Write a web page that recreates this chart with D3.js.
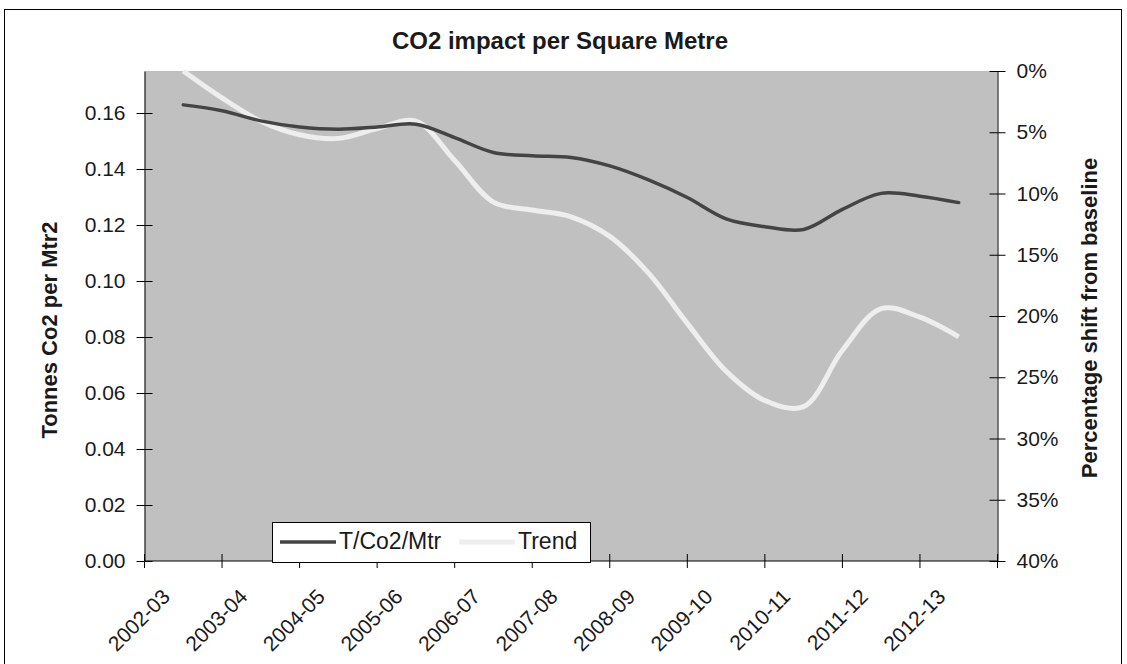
<!DOCTYPE html>
<html>
<head>
<meta charset="utf-8">
<script src="https://cdn.jsdelivr.net/npm/d3@7"></script>
<style>
  body { margin: 0; background: #fff; }
  text { font-family: "Liberation Sans", Arial, sans-serif; fill: #1a1a1a; }
</style>
</head>
<body>
<div id="chart"></div>
<script>
// Categories (financial years)
const periods = ["2002-03", "2003-04", "2004-05", "2005-06", "2006-07", "2007-08",
                 "2008-09", "2009-10", "2010-11", "2011-12", "2012-13"];

// Sample positions along the category axis (half-year steps)
const samplePos = [0, 0.5, 1, 1.5, 2, 2.5, 3, 3.5, 4, 4.5, 5, 5.5, 6, 6.5, 7, 7.5, 8, 8.5, 9, 9.5, 10];

// Tonnes CO2 per square metre (left axis)
const tonnes = [0.1629, 0.1608, 0.1572, 0.1550, 0.1542, 0.1550, 0.1560, 0.1512, 0.1459, 0.1447, 0.1441,
                0.1411, 0.1361, 0.1298, 0.1222, 0.1194, 0.1184, 0.1256, 0.1313, 0.1303, 0.1280];

// Percentage shift from baseline (right axis, reversed)
const trend = [0.0, 2.2, 4.1, 5.2, 5.5, 4.7, 4.1, 7.3, 10.7, 11.35, 11.9,
               13.5, 16.5, 20.6, 24.5, 26.9, 27.4, 22.8, 19.4, 20.1, 21.7];

const leftTicks = [0, 0.02, 0.04, 0.06, 0.08, 0.10, 0.12, 0.14, 0.16];
const rightTicks = [0, 5, 10, 15, 20, 25, 30, 35, 40];

const W = 1127, H = 664;
const plot = { left: 144.5, right: 997.5, top: 71, bottom: 561 };
const tickFont = "21px";

const svg = d3.select("#chart").append("svg")
  .attr("width", W).attr("height", H);

// outer chart border
svg.append("rect")
  .attr("x", 4.5).attr("y", 9.5)
  .attr("width", 1117).attr("height", 700)
  .attr("fill", "#fff").attr("stroke", "#000").attr("stroke-width", 1);

// plot background
svg.append("rect")
  .attr("x", plot.left).attr("y", plot.top)
  .attr("width", plot.right - plot.left).attr("height", plot.bottom - plot.top)
  .attr("fill", "#c0c0c0");

// scales
const x = d3.scaleLinear().domain([-0.5, periods.length - 0.5]).range([plot.left, plot.right]);
const yL = d3.scaleLinear().domain([0, 0.175]).range([plot.bottom, plot.top]);
const yR = d3.scaleLinear().domain([0, 40]).range([plot.top, plot.bottom]);

// left axis
svg.append("g")
  .attr("transform", `translate(${plot.left},0)`)
  .call(d3.axisLeft(yL).tickValues(leftTicks).tickFormat(d3.format(".2f"))
    .tickSizeInner(8).tickSizeOuter(0).tickPadding(11))
  .call(g => g.select(".domain").attr("stroke", "#000"))
  .call(g => g.selectAll(".tick line").attr("x2", 8).attr("x1", -8).attr("stroke", "#000"))
  .call(g => g.selectAll(".tick text").attr("font-size", tickFont).attr("fill", "#1a1a1a")
    .attr("font-family", "Liberation Sans, Arial, sans-serif"));

// right axis
svg.append("g")
  .attr("transform", `translate(${plot.right},0)`)
  .call(d3.axisRight(yR).tickValues(rightTicks).tickFormat(d => d + "%")
    .tickSizeInner(8).tickSizeOuter(0).tickPadding(11))
  .call(g => g.select(".domain").attr("stroke", "#000"))
  .call(g => g.selectAll(".tick line").attr("x1", -8).attr("x2", 8).attr("stroke", "#000"))
  .call(g => g.selectAll(".tick text").attr("font-size", tickFont).attr("fill", "#1a1a1a")
    .attr("font-family", "Liberation Sans, Arial, sans-serif"));

// bottom axis: ticks at category boundaries, labels at centres
const bounds = d3.range(periods.length + 1).map(i => i - 0.5);
const xAxis = svg.append("g");
xAxis.append("line")
  .attr("x1", plot.left).attr("x2", plot.right)
  .attr("y1", plot.bottom).attr("y2", plot.bottom)
  .attr("stroke", "#000");
xAxis.selectAll(".xt").data(bounds).join("line")
  .attr("class", "xt")
  .attr("x1", d => x(d)).attr("x2", d => x(d))
  .attr("y1", plot.bottom - 7).attr("y2", plot.bottom + 7)
  .attr("stroke", "#000");
xAxis.selectAll(".xl").data(periods).join("text")
  .attr("class", "xl")
  .attr("transform", (d, i) => `translate(${x(i) - 12},${plot.bottom + 37}) rotate(-45)`)
  .attr("text-anchor", "end")
  .attr("font-size", tickFont)
  .text(d => d);

// lines
const darkLine = d3.line()
  .x((d, i) => x(samplePos[i]))
  .y(d => yL(d))
  .curve(d3.curveCatmullRom.alpha(0.5));
const trendLine = d3.line()
  .x((d, i) => x(samplePos[i]))
  .y(d => yR(d))
  .curve(d3.curveCatmullRom.alpha(0.5));

svg.append("path").datum(trend)
  .attr("d", trendLine)
  .attr("fill", "none").attr("stroke", "#eeeeee").attr("stroke-width", 5)
  .attr("stroke-linejoin", "round");
svg.append("path").datum(tonnes)
  .attr("d", darkLine)
  .attr("fill", "none").attr("stroke", "#444444").attr("stroke-width", 3.5)
  .attr("stroke-linejoin", "round").attr("stroke-linecap", "round");

// title
svg.append("text")
  .attr("x", 560).attr("y", 49)
  .attr("text-anchor", "middle")
  .attr("font-size", "24px").attr("font-weight", "bold")
  .text("CO2 impact per Square Metre");

// axis titles
svg.append("text")
  .attr("transform", `translate(57,330) rotate(-90)`)
  .attr("text-anchor", "middle")
  .attr("font-size", "22px").attr("font-weight", "bold")
  .text("Tonnes Co2 per Mtr2");
svg.append("text")
  .attr("transform", `translate(1097,318) rotate(-90)`)
  .attr("text-anchor", "middle")
  .attr("font-size", "22px").attr("font-weight", "bold")
  .text("Percentage shift from baseline");

// legend
const legend = svg.append("g");
legend.append("rect")
  .attr("x", 272.5).attr("y", 522.5).attr("width", 318).attr("height", 40)
  .attr("fill", "#fff").attr("stroke", "#000");
const legendItems = [
  { name: "T/Co2/Mtr", color: "#444444", width: 3.5, x: 280 },
  { name: "Trend", color: "#eeeeee", width: 5, x: 459 }
];
legendItems.forEach(it => {
  legend.append("line")
    .attr("x1", it.x).attr("x2", it.x + 56)
    .attr("y1", 542).attr("y2", 542)
    .attr("stroke", it.color).attr("stroke-width", it.width);
  legend.append("text")
    .attr("x", it.x + 59).attr("y", 549)
    .attr("font-size", "23px")
    .text(it.name);
});
</script>
</body>
</html>
